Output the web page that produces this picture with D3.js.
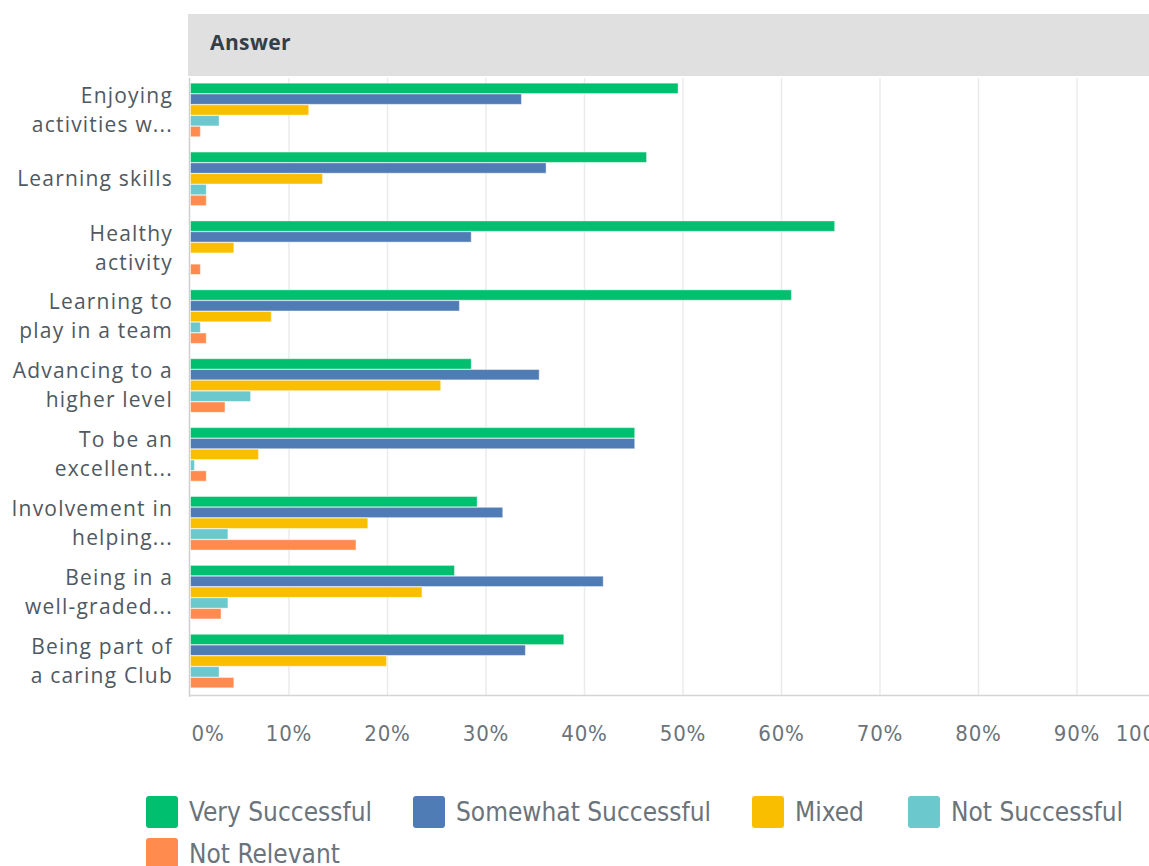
<!DOCTYPE html>
<html><head><meta charset="utf-8">
<script src="https://cdn.jsdelivr.net/npm/d3@7"></script>
<style>
html,body{margin:0;padding:0;background:#fff;overflow:hidden;}
svg{display:block;}
</style></head>
<body>
<script>
const categories = [
  ["Enjoying", "activities w..."],
  ["Learning skills"],
  ["Healthy", "activity"],
  ["Learning to", "play in a team"],
  ["Advancing to a", "higher level"],
  ["To be an", "excellent..."],
  ["Involvement in", "helping..."],
  ["Being in a", "well-graded..."],
  ["Being part of", "a caring Club"]
];
const seriesNames = ["Very Successful", "Somewhat Successful", "Mixed", "Not Successful", "Not Relevant"];
const colors = ["#00bf6f", "#507cb6", "#f9be00", "#6bc8cd", "#ff8b4f"];
const verySuccessful     = [49.5, 46.3, 65.4, 61.0, 28.5, 45.1, 29.1, 26.8, 37.9];
const somewhatSuccessful = [33.6, 36.1, 28.5, 27.3, 35.4, 45.1, 31.7, 41.9, 34.0];
const mixed              = [12.0, 13.4, 4.4, 8.2, 25.4, 6.9, 18.0, 23.5, 19.9];
const notSuccessful      = [2.9, 1.6, 0, 1.0, 6.1, 0.4, 3.8, 3.8, 2.9];
const notRelevant        = [1.0, 1.6, 1.0, 1.6, 3.5, 1.6, 16.8, 3.1, 4.4];
const seriesValues = [verySuccessful, somewhatSuccessful, mixed, notSuccessful, notRelevant];
const tickValues = [0, 10, 20, 30, 40, 50, 60, 70, 80, 90, 100];
const headerLabel = "Answer";

const W = 1149, H = 866;
const svg = d3.select("body").append("svg").attr("width", W).attr("height", H);

const x = d3.scaleLinear().domain([0, 100]).range([190.5, 1175.5]);
const y = d3.scaleBand().domain(d3.range(categories.length)).range([75.5, 695.5]).paddingInner(0.21).paddingOuter(0.105);
const ySub = d3.scaleBand().domain(d3.range(seriesNames.length)).range([0, y.bandwidth()]).padding(0.04);

// header
svg.append("rect").attr("x", 188).attr("y", 14).attr("width", W - 188).attr("height", 62).attr("fill", "#e0e0e0");
svg.append("text").attr("x", 210).attr("y", 50).text(headerLabel)
  .attr("font-family", "'Open Sans', sans-serif").attr("font-weight", 700).attr("font-size", 21)
  .attr("letter-spacing", 0.4).attr("fill", "#333e48");

// gridlines
svg.append("g").selectAll("line").data(tickValues.slice(1)).join("line")
  .attr("x1", d => x(d)).attr("x2", d => x(d)).attr("y1", 78).attr("y2", 695)
  .attr("stroke", "#ebebeb").attr("stroke-width", 1.5);

// axis lines
svg.append("line").attr("x1", 189.5).attr("x2", 189.5).attr("y1", 78).attr("y2", 697).attr("stroke", "#cfcfcf").attr("stroke-width", 1.5);
svg.append("line").attr("x1", 189).attr("x2", W).attr("y1", 695.5).attr("y2", 695.5).attr("stroke", "#d4d4d4").attr("stroke-width", 1.5);

// bars
const groups = svg.append("g").selectAll("g").data(categories).join("g")
  .attr("transform", (d, i) => `translate(0,${y(i)})`);
groups.each(function(cat, ci) {
  d3.select(this).selectAll("rect").data(seriesValues.map((s, si) => ({si, v: s[ci]}))).join("rect")
    .filter(d => d.v > 0)
    .attr("x", x(0)).attr("y", d => ySub(d.si))
    .attr("width", d => x(d.v) - x(0)).attr("height", ySub.bandwidth())
    .attr("fill", d => colors[d.si])
    .attr("stroke", "#ffffff").attr("stroke-opacity", 0.45).attr("stroke-width", 1);
});

// category labels
const lab = svg.append("g").selectAll("text").data(categories).join("text")
  .attr("text-anchor", "end")
  .attr("font-family", "'Open Sans', sans-serif").attr("font-size", 21)
  .attr("letter-spacing", 1.2).attr("fill", "#4f5961");
lab.each(function(lines, i) {
  const c = y(i) + y.bandwidth() / 2;
  const lh = 29;
  const start = c - (lines.length - 1) * lh / 2;
  d3.select(this).selectAll("tspan").data(lines).join("tspan")
    .attr("x", 173).attr("y", (d, k) => start + k * lh).attr("dy", "0.35em").text(d => d);
});

// x tick labels
svg.append("g").selectAll("text").data(tickValues).join("text")
  .attr("x", d => d === 0 ? x(0) + 1 : (d === 100 ? x(100) : x(d)))
  .attr("y", 733).attr("dy", "0.35em")
  .attr("text-anchor", d => d === 0 ? "start" : (d === 100 ? "end" : "middle"))
  .attr("font-family", "'Liberation Sans Narrow', 'DejaVu Sans Condensed', sans-serif")
  .attr("font-size", 22).attr("letter-spacing", 0.8).attr("fill", "#6b737b")
  .text(d => d + "%");

// legend
const legendPos = [
  {x: 146, y: 796}, {x: 413, y: 796}, {x: 752, y: 796}, {x: 908, y: 796}, {x: 146, y: 838}
];
const leg = svg.append("g").selectAll("g").data(seriesNames).join("g")
  .attr("transform", (d, i) => `translate(${legendPos[i].x},${legendPos[i].y})`);
leg.append("rect").attr("width", 32).attr("height", 32).attr("rx", 3).attr("fill", (d, i) => colors[i]);
leg.append("text").attr("x", 43).attr("y", 16).attr("dy", "0.35em").text(d => d)
  .attr("font-family", "'Liberation Sans Narrow', 'DejaVu Sans Condensed', sans-serif")
  .attr("font-size", 26).attr("fill", "#6b737b");
</script>
</body></html>
